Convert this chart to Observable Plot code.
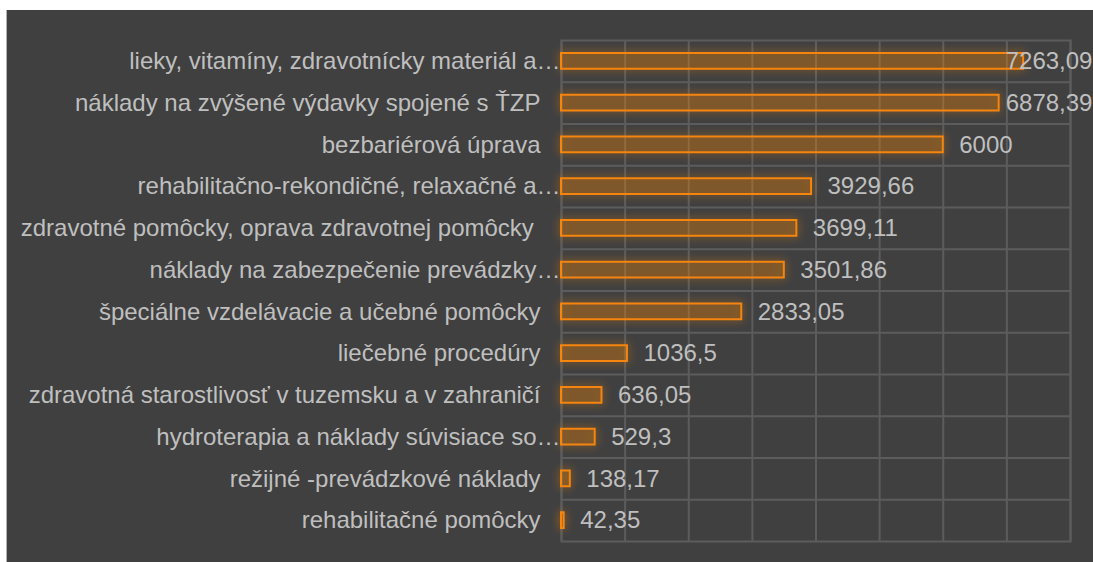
<!DOCTYPE html>
<html>
<head>
<meta charset="utf-8">
<script src="https://cdn.jsdelivr.net/npm/d3@7"></script>
<script src="https://cdn.jsdelivr.net/npm/@observablehq/plot@0.6"></script>
<style>
  html, body { margin: 0; padding: 0; background: #ffffff; }
  #panel {
    position: absolute; left: 7px; top: 10px; width: 1086px; height: 552px;
    background: #404040; box-shadow: -1px 0 0 #b0b0b0;
  }
  #panel svg { display: block; }
</style>
</head>
<body>
<div id="panel"></div>
<script>
const categories = [
  "lieky, vitamíny, zdravotnícky materiál a…",
  "náklady na zvýšené výdavky spojené s ŤZP",
  "bezbariérová úprava",
  "rehabilitačno-rekondičné, relaxačné a…",
  "zdravotné pomôcky, oprava zdravotnej pomôcky ",
  "náklady na zabezpečenie prevádzky…",
  "špeciálne vzdelávacie a učebné pomôcky",
  "liečebné procedúry",
  "zdravotná starostlivosť v tuzemsku a v zahraničí",
  "hydroterapia a náklady súvisiace so…",
  "režijné -prevádzkové náklady",
  "rehabilitačné pomôcky"
];
const values = [7263.09, 6878.39, 6000, 3929.66, 3699.11, 3501.86, 2833.05, 1036.5, 636.05, 529.3, 138.17, 42.35];
const gridTicks = [0, 1000, 2000, 3000, 4000, 5000, 6000, 7000, 8000];

const data = categories.map((label, i) => ({label, value: values[i]}));
const fmt = v => String(v).replace(".", ",");
const truncated = data.filter(d => d.label.endsWith("…"));
const full = data.filter(d => !d.label.endsWith("…"));

const W = 1086, H = 552, mL = 554, mR = 23, mT = 30, mB = 21;
const bandStep = (H - mT - mB) / categories.length;

const font = "'Liberation Sans', Arial, sans-serif";
const textColor = "#bfbfbf";
const gridColor = "#5c5c5c";

const chart = Plot.plot({
  width: W,
  height: H,
  marginLeft: mL,
  marginRight: mR,
  marginTop: mT,
  marginBottom: mB,
  style: {background: "transparent", fontFamily: font, overflow: "visible"},
  x: {domain: [0, 8000], axis: null},
  y: {domain: categories, padding: 0, round: false, axis: null},
  marks: [
    Plot.frame({stroke: gridColor, strokeWidth: 2}),
    Plot.ruleY(categories.slice(1), {y: d => d, dy: -bandStep / 2, stroke: gridColor, strokeWidth: 2}),
    Plot.ruleX(gridTicks, {stroke: gridColor, strokeWidth: 2}),
    Plot.barX(data, {
      x: "value", y: "label",
      fill: "#f0820f", fillOpacity: 0.2,
      stroke: "#f5850f", strokeWidth: 2,
      insetTop: 13, insetBottom: 13
    }),
    Plot.text(data, {
      x: d => Math.min(d.value, 6730), y: "label", text: d => fmt(d.value),
      textAnchor: "start", dx: 16, fill: textColor, fontSize: 24
    }),
    Plot.text(full, {
      x: 0, y: "label", text: "label",
      textAnchor: "end", dx: -21, fill: textColor, fontSize: 24
    }),
    Plot.text(truncated, {
      x: 0, y: "label", text: "label",
      textAnchor: "end", dx: -1, fill: textColor, fontSize: 24
    })
  ]
});

const ns = "http://www.w3.org/2000/svg";
const defs = document.createElementNS(ns, "defs");
defs.innerHTML = `
  <filter id="glow" x="-20%" y="-100%" width="140%" height="300%">
    <feGaussianBlur in="SourceAlpha" stdDeviation="5" result="blur"/>
    <feFlood flood-color="#f5850f" flood-opacity="0.7"/>
    <feComposite in2="blur" operator="in" result="glow"/>
    <feMerge><feMergeNode in="glow"/><feMergeNode in="SourceGraphic"/></feMerge>
  </filter>`;
chart.insertBefore(defs, chart.firstChild);
const barGroups = chart.querySelectorAll('g[aria-label="bar"]');
if (barGroups.length) barGroups[barGroups.length - 1].setAttribute("filter", "url(#glow)");

document.getElementById("panel").appendChild(chart);
</script>
</body>
</html>
